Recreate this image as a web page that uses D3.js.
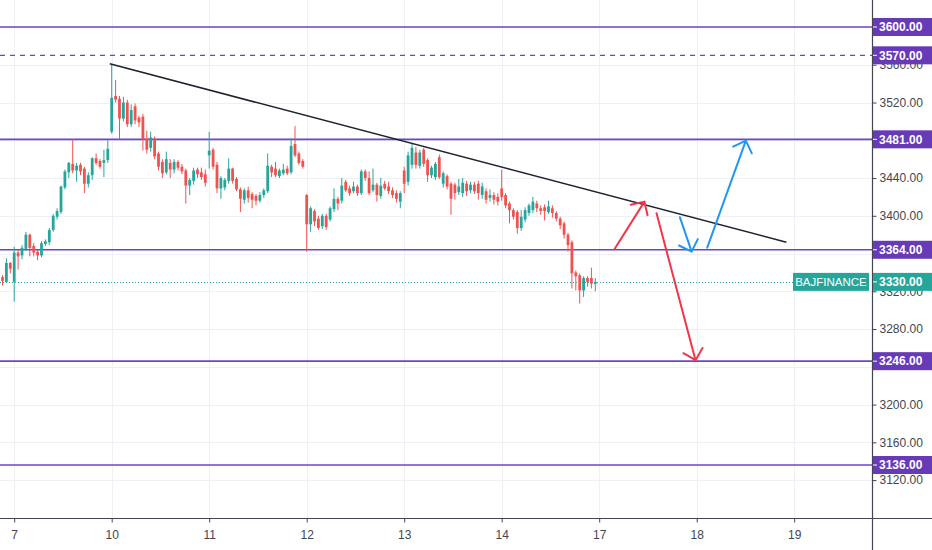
<!DOCTYPE html>
<html><head><meta charset="utf-8">
<script src="https://cdn.jsdelivr.net/npm/d3@7/dist/d3.min.js"></script>
<style>
html,body{margin:0;padding:0;background:#fff;}
svg{display:block;font-family:"Liberation Sans",Arial,sans-serif;}
</style></head>
<body>
<svg id="chart" width="932" height="550"></svg>
<script>
// ---- DATA (15-min candles, [open, high, low, close]) ----
const day6 = [[3335,3337,3326,3331],[3330,3355,3329,3350],[3350,3351,3339,3344]];
const day7 = [[3330,3367,3309,3361],[3361,3364,3343,3357],[3358,3369,3354,3366],[3365,3383,3363,3380],[3380,3381,3357,3366],
  [3368,3371,3357,3361],[3362,3364,3353,3358],[3358,3373,3356,3371],[3370,3375,3368,3373],[3372,3387,3369,3385],
  [3385,3402,3383,3400],[3399,3408,3396,3405],[3404,3432,3402,3431],[3430,3449,3428,3447],[3446,3457,3440,3456],
  [3455,3481,3445,3448],[3448,3456,3436,3453],[3454,3456,3443,3447],[3450,3452,3424,3434],[3434,3446,3430,3443],
  [3443,3462,3438,3461],[3461,3466,3454,3456],[3458,3460,3450,3452],[3456,3470,3441,3459],[3459,3480,3456,3471]];
const day10 = [[3489,3561,3487,3525],[3527,3544,3520,3523],[3524,3527,3481,3503],[3503,3526,3500,3520],[3520,3523,3494,3497],
  [3497,3518,3494,3512],[3516,3519,3497,3501],[3504,3506,3494,3499],[3505,3508,3469,3481],[3482,3490,3466,3470],
  [3472,3489,3468,3483],[3482,3484,3460,3463],[3466,3468,3448,3452],[3457,3460,3440,3445],[3446,3468,3444,3460],
  [3456,3460,3440,3449],[3449,3460,3445,3457],[3457,3459,3448,3451],[3452,3455,3444,3447],[3448,3450,3413,3432],
  [3432,3440,3422,3438],[3437,3451,3433,3448],[3449,3451,3440,3444],[3446,3451,3438,3441],[3444,3449,3431,3435]];
const day11 = [[3464,3489,3450,3469],[3470,3472,3449,3452],[3454,3457,3424,3429],[3429,3442,3418,3440],[3430,3440,3427,3438],
  [3437,3461,3434,3450],[3450,3451,3434,3437],[3439,3441,3426,3428],[3428,3430,3404,3418],[3417,3429,3413,3427],
  [3427,3431,3414,3419],[3423,3425,3408,3417],[3421,3423,3411,3416],[3416,3425,3414,3422],[3422,3429,3419,3427],
  [3426,3466,3424,3453],[3452,3454,3441,3446],[3450,3457,3441,3443],[3442,3450,3440,3448],[3445,3455,3443,3449],
  [3450,3453,3443,3445],[3446,3482,3444,3474],[3476,3495,3462,3464],[3466,3468,3454,3456],[3458,3460,3450,3452]];
const day12 = [[3422,3423,3362,3391],[3391,3410,3383,3408],[3405,3407,3389,3394],[3397,3400,3385,3387],[3389,3402,3386,3400],
  [3400,3402,3385,3388],[3396,3410,3394,3408],[3407,3429,3404,3418],[3418,3420,3406,3413],[3416,3440,3413,3432],
  [3436,3438,3425,3427],[3429,3432,3421,3424],[3426,3436,3424,3431],[3431,3433,3421,3424],[3424,3449,3422,3447],
  [3447,3449,3437,3440],[3440,3447,3422,3424],[3427,3450,3425,3433],[3433,3435,3415,3422],[3421,3440,3418,3432],
  [3434,3437,3427,3429],[3431,3436,3423,3426],[3427,3430,3419,3422],[3424,3427,3414,3418],[3415,3426,3408,3424]];
const day13 = [[3448,3452,3424,3434],[3436,3468,3432,3464],[3454,3476,3450,3472],[3467,3473,3450,3454],[3453,3470,3450,3467],
  [3470,3472,3452,3455],[3459,3461,3436,3443],[3443,3453,3440,3451],[3441,3457,3438,3455],[3462,3465,3439,3441],
  [3434,3447,3430,3445],[3442,3444,3428,3431],[3434,3436,3401,3418],[3433,3435,3417,3424],[3425,3439,3422,3431],
  [3424,3440,3420,3435],[3434,3437,3421,3426],[3427,3436,3424,3433],[3433,3436,3423,3426],[3434,3437,3417,3424],
  [3422,3435,3418,3431],[3426,3429,3413,3417],[3419,3428,3415,3422],[3422,3425,3412,3417],[3420,3424,3411,3415]];
const day14 = [[3429,3449,3416,3420],[3422,3424,3408,3411],[3413,3415,3392,3406],[3406,3408,3396,3399],[3404,3406,3381,3387],
  [3387,3406,3384,3399],[3396,3409,3393,3406],[3403,3413,3400,3411],[3406,3420,3403,3415],[3413,3416,3404,3408],
  [3408,3411,3401,3405],[3409,3412,3395,3405],[3404,3416,3402,3410],[3408,3411,3398,3403],[3403,3405,3394,3397],
  [3397,3399,3386,3390],[3392,3394,3376,3380],[3380,3382,3362,3369],[3372,3374,3323,3339],[3340,3342,3321,3336],
  [3337,3339,3307,3321],[3321,3336,3314,3334],[3334,3336,3325,3330],[3334,3345,3323,3328],[3328,3334,3320,3330]];

const dayLabels = ["7","10","11","12","13","14","17","18","19"];
const dayStartIndex = [3,28,53,78,103,128,153,178,203];
const priceTicks = [3120,3160,3200,3280,3320,3400,3440,3520,3560];
const gridPrices = [3120,3160,3200,3240,3280,3320,3360,3400,3440,3480,3520,3560,3600];
const levelLines = [3600,3481,3364,3246,3136];
const dashedLevel = 3570;
const lastPrice = 3330;
const symbol = "BAJFINANCE";
// trendline & arrows in [bar index, price]
const trendLine = [[27.5,3561],[201,3372]];
const redArrows = [[[156.9,3364.5],[164.6,3415]],[[167.7,3402.6],[177.7,3247]]];
const blueArrows = [[[173.7,3398.4],[176.7,3362]],[[180.7,3366.2],[190.6,3479.6]]];

// ---- CHART ----
const W = 932, H = 550, plotRight = 872, axisY = 518;
const svg = d3.select("#chart");
const candles = [].concat(day6, day7, day10, day11, day12, day13, day14)
  .map((d,i)=>({i, o:d[0], h:d[1], l:d[2], c:d[3]}));

const x = d3.scaleLinear().domain([0,223]).range([2.5, 2.5+3.9*223]);
const y = d3.scaleLinear().domain([3600,3136]).range([27,465]);

const GREEN = "#26a69a", RED = "#ef5350", PURPLE = "#6f45c4", TAG = "#673ab7";

svg.append("rect").attr("width",W).attr("height",H).attr("fill","#fff");

// grid
const grid = svg.append("g").attr("stroke","#edf0f5").attr("stroke-width",1);
grid.selectAll("line.v").data(dayStartIndex).join("line")
  .attr("x1",d=>Math.round(x(d))+0.5).attr("x2",d=>Math.round(x(d))+0.5)
  .attr("y1",0).attr("y2",axisY);
grid.selectAll("line.h").data(gridPrices).join("line")
  .attr("x1",0).attr("x2",plotRight)
  .attr("y1",d=>Math.round(y(d))+0.5).attr("y2",d=>Math.round(y(d))+0.5);

// level lines
svg.append("g").selectAll("line").data(levelLines).join("line")
  .attr("x1",0).attr("x2",plotRight)
  .attr("y1",d=>y(d)).attr("y2",d=>y(d))
  .attr("stroke",PURPLE).attr("stroke-width",1.6);
svg.append("line").attr("x1",0).attr("x2",plotRight)
  .attr("y1",y(dashedLevel)).attr("y2",y(dashedLevel))
  .attr("stroke",PURPLE).attr("stroke-width",1.2).attr("stroke-dasharray","5,5");
svg.append("line").attr("x1",0).attr("x2",793)
  .attr("y1",Math.round(y(lastPrice))+0.5).attr("y2",Math.round(y(lastPrice))+0.5)
  .attr("stroke",GREEN).attr("stroke-width",1).attr("stroke-dasharray","1,2");

// candles
const cg = svg.append("g");
const bw = 2.8;
cg.selectAll("line").data(candles).join("line")
  .attr("x1",d=>x(d.i)).attr("x2",d=>x(d.i))
  .attr("y1",d=>y(d.h)).attr("y2",d=>y(d.l))
  .attr("stroke",d=>d.c>=d.o?GREEN:RED).attr("stroke-width",1);
cg.selectAll("rect").data(candles).join("rect")
  .attr("x",d=>x(d.i)-bw/2).attr("width",bw)
  .attr("y",d=>y(Math.max(d.o,d.c)))
  .attr("height",d=>Math.max(1,Math.abs(y(d.o)-y(d.c))))
  .attr("fill",d=>d.c>=d.o?GREEN:RED);

// trendline
svg.append("line")
  .attr("x1",x(trendLine[0][0])).attr("y1",y(trendLine[0][1]))
  .attr("x2",x(trendLine[1][0])).attr("y2",y(trendLine[1][1]))
  .attr("stroke","#1e222d").attr("stroke-width",1.5);

// arrows
function arrow(a, color){
  const x1=x(a[0][0]), y1=y(a[0][1]), x2=x(a[1][0]), y2=y(a[1][1]);
  const ang=Math.atan2(y1-y2,x1-x2), L=14, sp=Math.PI/4;
  const p = d3.path();
  p.moveTo(x1,y1); p.lineTo(x2,y2);
  p.moveTo(x2+L*Math.cos(ang+sp), y2+L*Math.sin(ang+sp)); p.lineTo(x2,y2);
  p.lineTo(x2+L*Math.cos(ang-sp), y2+L*Math.sin(ang-sp));
  svg.append("path").attr("d",p.toString()).attr("fill","none")
    .attr("stroke",color).attr("stroke-width",2).attr("stroke-linecap","round").attr("stroke-linejoin","round");
}
redArrows.forEach(a=>arrow(a,"#f23645"));
blueArrows.forEach(a=>arrow(a,"#2196f3"));

// axes
svg.append("rect").attr("x",plotRight).attr("y",0).attr("width",W-plotRight).attr("height",H).attr("fill","#fff");
svg.append("rect").attr("x",0).attr("y",axisY).attr("width",W).attr("height",H-axisY).attr("fill","#fff");
const yAxis = svg.append("g").attr("transform",`translate(${plotRight+0.5},0)`)
  .call(d3.axisRight(y).tickValues(priceTicks).tickFormat(d3.format(".2f")).tickSize(4).tickPadding(3));
yAxis.select(".domain").remove();
yAxis.selectAll("text").attr("font-size",12).attr("fill","#434651").attr("font-family","Liberation Sans, Arial");
yAxis.selectAll("line").attr("stroke","#434651");
const xAxis = svg.append("g").attr("transform",`translate(0,${axisY+0.5})`)
  .call(d3.axisBottom(x).tickValues(dayStartIndex).tickFormat((d,i)=>dayLabels[i]).tickSize(4).tickPadding(8));
xAxis.select(".domain").remove();
xAxis.selectAll("text").attr("font-size",12).attr("fill","#434651").attr("font-family","Liberation Sans, Arial");
xAxis.selectAll("line").attr("stroke","#434651");
svg.append("line").attr("x1",0).attr("x2",W).attr("y1",axisY+0.5).attr("y2",axisY+0.5).attr("stroke","#434651").attr("stroke-width",1.2);
svg.append("line").attr("x1",plotRight+0.5).attr("x2",plotRight+0.5).attr("y1",0).attr("y2",H).attr("stroke","#434651").attr("stroke-width",1.2);

// tags
function tag(price, color){
  const yy=y(price);
  svg.append("rect").attr("x",plotRight+1).attr("y",yy-9).attr("width",W-plotRight-1).attr("height",18).attr("fill",color);
  svg.append("line").attr("x1",plotRight+1).attr("x2",plotRight+5).attr("y1",yy).attr("y2",yy).attr("stroke","#fff");
  svg.append("text").attr("x",plotRight+7).attr("y",yy).attr("dy","0.35em")
    .attr("font-size",12).attr("font-weight","bold").attr("fill","#fff").text(d3.format(".2f")(price));
}
levelLines.concat([dashedLevel]).forEach(p=>tag(p,TAG));
tag(lastPrice,GREEN);
svg.append("rect").attr("x",793).attr("y",y(lastPrice)-9).attr("width",76).attr("height",18).attr("fill",GREEN);
svg.append("text").attr("x",831).attr("y",y(lastPrice)).attr("dy","0.35em").attr("text-anchor","middle")
  .attr("font-size",11.5).attr("fill","#fff").text(symbol);
</script>
</body></html>
